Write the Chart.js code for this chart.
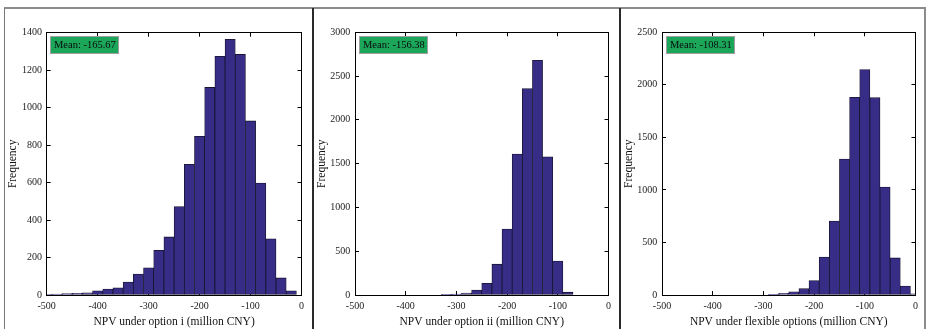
<!DOCTYPE html>
<html><head><meta charset="utf-8">
<script src="https://cdn.jsdelivr.net/npm/chart.js@4.4.1/dist/chart.umd.min.js"></script>
<style>
html,body{margin:0;padding:0;background:#fff;width:927px;height:329px;overflow:hidden;position:relative}
canvas{position:absolute;top:0}
.ln{position:absolute}
</style></head><body>
<div class="ln" style="left:4px;top:7px;width:922px;height:2px;background:#8c8c8c"></div>
<div class="ln" style="left:4px;top:8px;width:1px;height:321px;background:#777"></div>
<div class="ln" style="left:312px;top:8px;width:2px;height:321px;background:#2a2a2a"></div>
<div class="ln" style="left:619px;top:8px;width:2px;height:321px;background:#2a2a2a"></div>
<div class="ln" style="left:924px;top:8px;width:2px;height:321px;background:#8c8c8c"></div>
<canvas id="c1" width="313" height="329" style="left:0px"></canvas>
<canvas id="c2" width="307" height="329" style="left:313px"></canvas>
<canvas id="c3" width="307" height="329" style="left:620px"></canvas>
<script>
// ---- data ----
const xTickValues = [-500, -400, -300, -200, -100, 0];

const binCenters1 = [-500,-480,-460,-440,-420,-400,-380,-360,-340,-320,-300,-280,-260,-240,-220,-200,-180,-160,-140,-120,-100,-80,-60,-40,-20];
const counts1     = [3,5,7,9,12,22,32,38,69,112,145,239,310,472,698,847,1108,1274,1365,1284,929,598,300,91,22];
const yTicks1     = [0,200,400,600,800,1000,1200,1400];
const mean1       = "-165.67";
const xTitle1     = "NPV under option i (million CNY)";

const binCenters2 = [-320,-300,-280,-260,-240,-220,-200,-180,-160,-140,-120,-100,-80];
const counts2     = [4,10,23,57,133,352,752,1610,2357,2680,1578,388,32];
const yTicks2     = [0,500,1000,1500,2000,2500,3000];
const mean2       = "-156.38";
const xTitle2     = "NPV under option ii (million CNY)";

const binCenters3 = [-280,-260,-240,-220,-200,-180,-160,-140,-120,-100,-80,-60,-40,-20,0];
const counts3     = [6,16,31,60,137,362,704,1294,1882,2145,1878,1028,353,85,10];
const yTicks3     = [0,500,1000,1500,2000,2500];
const mean3       = "-108.31";
const xTitle3     = "NPV under flexible options (million CNY)";

const yTitle = "Frequency";

// ---- drawing ----
const SERIF = "'Liberation Serif','Times New Roman',serif";
const meanPlugin = {
  id: 'meanBox',
  afterDraw(chart, args, opts) {
    const {ctx, chartArea: a} = chart;
    const x = Math.round(a.left + 3.5), y = Math.round(a.top + 3.5), w = 69, h = 18;
    ctx.save();
    ctx.fillStyle = '#1ba65a';
    ctx.fillRect(x, y, w, h);
    ctx.strokeStyle = '#a0a0a0';
    ctx.lineWidth = 1;
    ctx.strokeRect(x + 0.5, y + 0.5, w - 1, h - 1);
    ctx.fillStyle = '#0b0b0b';
    ctx.font = "10.5px " + SERIF;
    ctx.textBaseline = 'middle';
    ctx.fillText(opts.text, x + 4, y + h / 2 + 0.5);
    ctx.restore();
  }
};

function setTicks(arr) { return s => { s.ticks = arr.map(v => ({value: v})); }; }

function makeChart(id, centers, counts, yTicks, mean, xTitle, lay) {
  const font = {family: SERIF, size: 10};
  const tfont = {family: SERIF, size: 11.5};
  const yMax = yTicks[yTicks.length - 1];
  const gridOpts = {drawOnChartArea: false, drawTicks: true, tickLength: -4, color: '#000', lineWidth: 1, offset: false};
  const border = {display: true, color: '#000', width: 1};
  return new Chart(document.getElementById(id), {
    type: 'bar',
    data: {datasets: [{
      data: centers.map((c, i) => ({x: c, y: counts[i]})),
      backgroundColor: '#372d86',
      borderColor: '#17132e',
      borderWidth: 0.8,
      borderSkipped: false,
      barPercentage: 1,
      categoryPercentage: 1
    }]},
    options: {
      responsive: false, animation: false, events: [],
      layout: {padding: {left: 0, right: lay.padR, top: lay.padT, bottom: 0}},
      plugins: {legend: {display: false}, tooltip: {enabled: false}, meanBox: {text: 'Mean: ' + mean}},
      scales: {
        x: {type: 'linear', position: 'bottom', min: -500, max: 0, offset: false,
            afterBuildTicks: setTicks(xTickValues),
            afterFit: s => { s.height = 34; },
            grid: gridOpts, border,
            ticks: {font, color: '#222', padding: 9, maxRotation: 0, autoSkip: false, callback: v => String(v)},
            title: {display: true, text: xTitle, font: tfont, color: '#111', padding: {top: 0, bottom: 0}}},
        x2: {type: 'linear', position: 'top', min: -500, max: 0, offset: false,
            afterBuildTicks: setTicks(xTickValues),
            afterFit: s => { s.height = 0; },
            grid: gridOpts, border, ticks: {display: false}},
        y: {type: 'linear', position: 'left', min: 0, max: yMax,
            afterBuildTicks: setTicks(yTicks),
            afterFit: s => { s.width = lay.yW; },
            grid: gridOpts, border,
            ticks: {font, color: '#222', padding: 8.7, callback: v => String(v)},
            title: {display: true, text: yTitle, font: tfont, color: '#111', padding: {top: lay.tPad, bottom: 0}}},
        y2: {type: 'linear', position: 'right', min: 0, max: yMax,
            afterBuildTicks: setTicks(yTicks),
            afterFit: s => { s.width = 0; },
            grid: gridOpts, border, ticks: {display: false}}
      }
    },
    plugins: [meanPlugin]
  });
}

makeChart('c1', binCenters1, counts1, yTicks1, mean1, xTitle1, {yW: 46.7, padR: 7, padT: 32.7, tPad: 6});
makeChart('c2', binCenters2, counts2, yTicks2, mean2, xTitle2, {yW: 42, padR: 6.7, padT: 32.3, tPad: 2});
makeChart('c3', binCenters3, counts3, yTicks3, mean3, xTitle3, {yW: 42, padR: 7, padT: 32.3, tPad: 2});
</script>
</body></html>
